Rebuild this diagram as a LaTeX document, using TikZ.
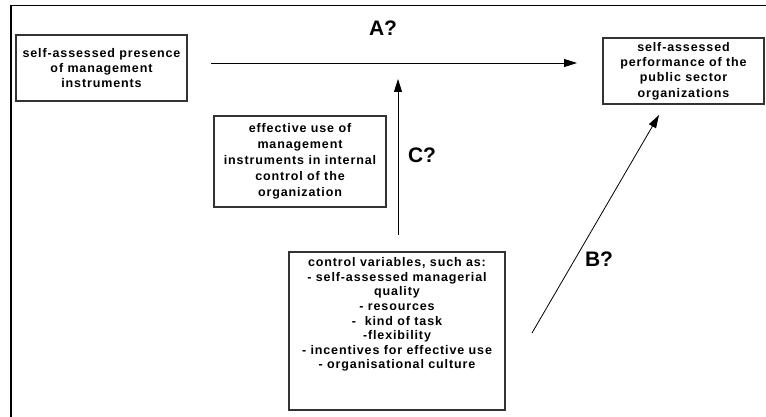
\documentclass[tikz,border=0pt]{standalone}
\usepackage{fontspec}
\setmainfont{Liberation Sans}
\usetikzlibrary{arrows.meta}
\begin{document}
\begin{tikzpicture}[x=1pt,y=-1pt,
  box/.style={draw=black!80, line width=1.1pt, inner sep=0pt},
  boxtext/.style={font=\fontsize{12.5}{14.6}\selectfont\bfseries\addfontfeature{LetterSpace=7}, align=center, inner sep=0pt},
  arr/.style={line width=0.8pt, -{Triangle[length=13pt,width=8pt]}},
  lbl/.style={font=\fontsize{21}{24}\selectfont\bfseries, inner sep=0pt}]
\useasboundingbox (0,0) rectangle (766,417);
\draw[line width=1.8pt] (11,417) -- (11,5.5) -- (766,5.5);

\node[box, boxtext, minimum width=171pt, minimum height=66pt] (pres) at (101.5,68)
  {self-assessed presence\\of management\\instruments};
\node[box, boxtext, minimum width=161pt, minimum height=66pt, font=\fontsize{12.5}{15.3}\selectfont\bfseries\addfontfeature{LetterSpace=7}] (perf) at (683.5,71)
  {self-assessed\\performance of the\\public sector\\organizations};
\node[box, boxtext, minimum width=172pt, minimum height=91pt, font=\fontsize{12.5}{16}\selectfont\bfseries\addfontfeature{LetterSpace=7}] (use) at (300,161.5)
  {effective use of\\management\\instruments in internal\\control of the\\organization};
\node[box, minimum width=216pt, minimum height=158pt] (ctrl) at (397,331) {};
\node[boxtext, anchor=north] (ctrltext) at ([yshift=-6pt]ctrl.north)
  {control variables, such as:\\- self-assessed managerial\\quality\\- resources\\-\ \ kind of task\\-flexibility\\- incentives for effective use\\- organisational culture};

\coordinate (aS) at (211,63);
\coordinate (aE) at (577,63);
\coordinate (cS) at (398,235);
\coordinate (cE) at (398,79);
\coordinate (bS) at (532,333);
\coordinate (bE) at (659,115);
\draw[arr] (aS) -- (aE);
\draw[arr] (cS) -- (cE);
\draw[arr] (bS) -- (bE);

\node[lbl] (la) at (383,28) {A?};
\node[lbl] (lc) at (422,155) {C?};
\node[lbl] (lb) at (599,259) {B?};
\end{tikzpicture}
\end{document}
